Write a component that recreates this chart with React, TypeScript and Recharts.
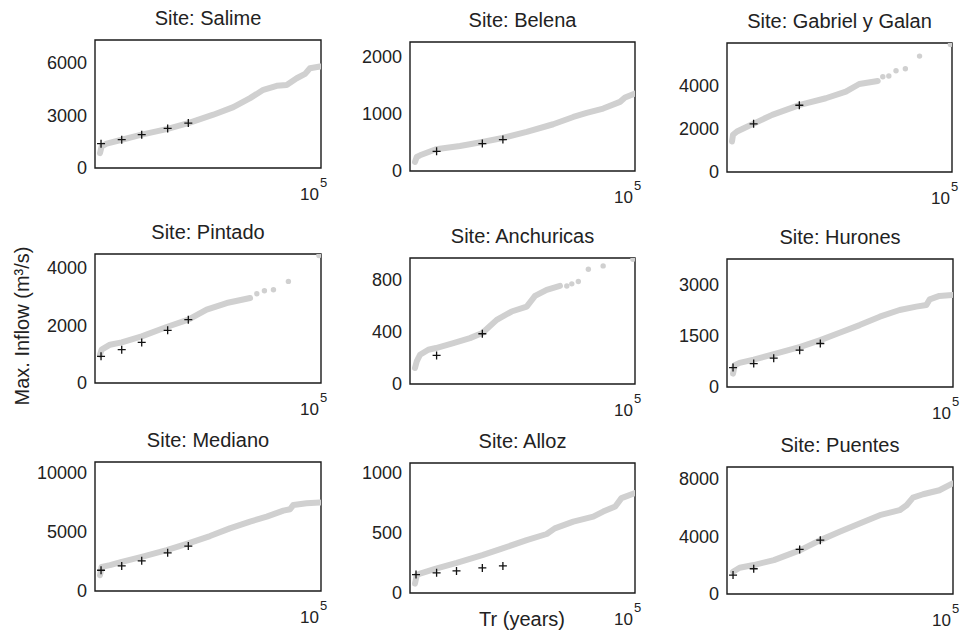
import React from 'react';
import { ComposedChart, Scatter, XAxis, YAxis, ReferenceArea } from 'recharts';

const FONT = '"Liberation Sans", Arial, Helvetica, sans-serif';
const TEXT = '#222';
const GRAY = '#d0d0d0';
const BOX = '#1a1a1a';

// Return periods (years) of the observed-data markers
const TR_MARKS = [1.36, 3.9, 10.8, 40.5, 116];

// ---- Salime ----
const salimeTr = [1.29, 1.4, 1.81, 3.9, 10.8, 38.5, 116, 415, 1150, 2700, 5300, 10500, 17400, 29000, 44500, 57000, 95000];
const salimeQ = [850, 1230, 1385, 1610, 1900, 2220, 2560, 3040, 3470, 3985, 4460, 4690, 4740, 5120, 5370, 5690, 5790];
const salimeMarks = [1385, 1613, 1898, 2258, 2562];

// ---- Belena ----
const belenaTr = [1.29, 1.41, 1.67, 3.78, 12.9, 40.5, 114, 392, 1520, 4260, 8430, 19600, 46400, 60000, 100000];
const belenaQ = [158, 245, 275, 380, 438, 509, 579, 684, 819, 947, 1018, 1094, 1211, 1287, 1357];
const belenaMarks = [null, 345, null, 480, 550];

// ---- Gabriel y Galan ----
const gabrielTr = [1.29, 1.36, 1.67, 2.56, 3.8, 10.1, 41.8, 157, 438, 870, 2240];
const gabrielQ = [1421, 1730, 1884, 2070, 2240, 2656, 3120, 3430, 3737, 4093, 4232];
const gabrielSparseTr = [2900, 3950, 5700, 9200, 19000, 92000];
const gabrielSparseQ = [4432, 4463, 4710, 4803, 5390, 5930];
const gabrielMarks = [null, 2240, null, 3104, null];

// ---- Pintado ----
const pintadoTr = [1.29, 1.4, 2.15, 3.9, 10.8, 38.5, 116, 295, 820, 2700];
const pintadoQ = [985, 1160, 1333, 1414, 1623, 1948, 2203, 2551, 2783, 2957];
const pintadoSparseTr = [3800, 5600, 8870, 19000, 90000];
const pintadoSparseQ = [3107, 3212, 3246, 3536, 4440];
const pintadoMarks = [928, 1160, 1414, 1832, 2203];

// ---- Anchuricas ----
const anchuTr = [1.29, 1.41, 1.67, 2.55, 3.78, 9.2, 21.5, 40.5, 84.5, 181, 392, 600, 1090, 2150];
const anchuQ = [123, 174, 225, 264, 277, 315, 353, 392, 494, 558, 596, 678, 725, 755];
const anchuSparseTr = [3050, 3940, 5500, 9200, 19600, 90000];
const anchuSparseQ = [755, 771, 789, 883, 909, 960];
const anchuMarks = [null, 220, null, 387, null];

// ---- Hurones ----
const huronesTr = [1.36, 1.48, 1.9, 3.9, 10.9, 41.8, 116, 310, 860, 2400, 6600, 15400, 25800, 30600, 50000, 96000];
const huronesQ = [393, 639, 708, 806, 964, 1180, 1377, 1593, 1819, 2065, 2262, 2360, 2409, 2576, 2675, 2704];
const huronesMarks = [570, 688, 846, 1082, 1278];

// ---- Mediano ----
const medianoTr = [1.29, 1.4, 2.15, 3.9, 10.8, 38.5, 116, 350, 960, 2700, 6300, 14700, 20700, 24500, 48000, 94000];
const medianoQ = [1335, 2045, 2190, 2470, 2900, 3466, 4034, 4660, 5312, 5880, 6307, 6818, 6930, 7300, 7443, 7500];
const medianoMarks = [1761, 2130, 2557, 3239, 3807];

// ---- Alloz ----
const allozTr = [1.29, 1.41, 1.67, 3.78, 10.9, 40.5, 114, 392, 1090, 1650, 4260, 11800, 19600, 36400, 50000, 97000];
const allozQ = [78, 148, 162, 204, 251, 316, 372, 441, 492, 539, 595, 637, 679, 721, 791, 832];
const allozMarks = [154, 168, 184, 209, 226];

// ---- Puentes ----
const puentesTr = [1.36, 1.9, 3.9, 10.9, 41.8, 116, 310, 860, 2400, 6600, 9400, 13000, 21800, 50000, 96000];
const puentesQ = [1544, 1820, 2005, 2350, 3041, 3733, 4309, 4885, 5461, 5806, 6152, 6682, 6912, 7189, 7650];
const puentesMarks = [1313, 1751, null, 3088, 3733];

const zip = (xs: number[], ys: number[]) => xs.map((x, i) => ({ x, y: ys[i] }));
const marks = (ys: (number | null)[]) =>
  TR_MARKS.map((x, i) => ({ x, y: ys[i] })).filter((p) => p.y != null);

type Panel = {
  title: string;
  left: number;
  top: number;
  w: number;
  h: number;
  ymax: number;
  ticks: number[];
  curve: { x: number; y: number }[];
  sparse: { x: number; y: number }[];
  marks: { x: number; y: number | null }[];
};

const panels: Panel[] = [
  { title: 'Site: Salime', left: 95, top: 40, w: 226, h: 128, ymax: 7300, ticks: [0, 3000, 6000], curve: zip(salimeTr, salimeQ), sparse: [], marks: marks(salimeMarks) },
  { title: 'Site: Belena', left: 410, top: 42, w: 225, h: 129, ymax: 2260, ticks: [0, 1000, 2000], curve: zip(belenaTr, belenaQ), sparse: [], marks: marks(belenaMarks) },
  { title: 'Site: Gabriel y Galan', left: 727, top: 43, w: 225, h: 129, ymax: 6000, ticks: [0, 2000, 4000], curve: zip(gabrielTr, gabrielQ), sparse: zip(gabrielSparseTr, gabrielSparseQ), marks: marks(gabrielMarks) },
  { title: 'Site: Pintado', left: 95, top: 254, w: 226, h: 129, ymax: 4490, ticks: [0, 2000, 4000], curve: zip(pintadoTr, pintadoQ), sparse: zip(pintadoSparseTr, pintadoSparseQ), marks: marks(pintadoMarks) },
  { title: 'Site: Anchuricas', left: 410, top: 258, w: 225, h: 126, ymax: 970, ticks: [0, 400, 800], curve: zip(anchuTr, anchuQ), sparse: zip(anchuSparseTr, anchuSparseQ), marks: marks(anchuMarks) },
  { title: 'Site: Hurones', left: 727, top: 259, w: 226, h: 128, ymax: 3760, ticks: [0, 1500, 3000], curve: zip(huronesTr, huronesQ), sparse: [], marks: marks(huronesMarks) },
  { title: 'Site: Mediano', left: 95, top: 462, w: 226, h: 129, ymax: 10940, ticks: [0, 5000, 10000], curve: zip(medianoTr, medianoQ), sparse: [], marks: marks(medianoMarks) },
  { title: 'Site: Alloz', left: 410, top: 463, w: 225, h: 130, ymax: 1084, ticks: [0, 500, 1000], curve: zip(allozTr, allozQ), sparse: [], marks: marks(allozMarks) },
  { title: 'Site: Puentes', left: 727, top: 467, w: 226, h: 127, ymax: 8800, ticks: [0, 4000, 8000], curve: zip(puentesTr, puentesQ), sparse: [], marks: marks(puentesMarks) },
];

const ML = 70;
const MR = 20;
const MT = 5;
const MB = 40;

const PlusShape = (props: any) => {
  const { cx, cy } = props;
  if (cx == null || cy == null) return <g />;
  return (
    <path
      d={`M${cx - 4},${cy}H${cx + 4}M${cx},${cy - 4}V${cy + 4}`}
      stroke="#111"
      strokeWidth={1.3}
      fill="none"
    />
  );
};

const DotShape = (props: any) => {
  const { cx, cy } = props;
  if (cx == null || cy == null) return <g />;
  return <circle cx={cx} cy={cy} r={2.7} fill={GRAY} />;
};

const NoShape = () => <g />;

const XTick = (props: any) => {
  const { x, y } = props;
  return (
    <g>
      <text x={x + 2} y={y + 32} textAnchor="end" fontSize={17} fill={TEXT} fontFamily={FONT}>
        10
      </text>
      <text x={x + 3} y={y + 19} textAnchor="start" fontSize={13} fill={TEXT} fontFamily={FONT}>
        5
      </text>
    </g>
  );
};

function PanelChart({ p }: { p: Panel }) {
  const width = p.w + ML + MR;
  const height = p.h + MT + MB;
  return (
    <>
      <div
        style={{
          position: 'absolute',
          left: p.left + p.w / 2,
          top: p.top - 22 - 10,
          transform: 'translateX(-50%)',
          fontFamily: FONT,
          fontSize: 20,
          lineHeight: '20px',
          color: TEXT,
          whiteSpace: 'nowrap',
        }}
      >
        {p.title}
      </div>
      <div style={{ position: 'absolute', left: p.left - ML, top: p.top - MT }}>
        <ComposedChart
          width={width}
          height={height}
          margin={{ top: MT, right: MR, bottom: 0, left: 10 }}
        >
          <XAxis
            dataKey="x"
            type="number"
            scale="log"
            domain={[1, 100000]}
            ticks={[100000]}
            allowDataOverflow
            height={MB}
            axisLine={false}
            tickLine={false}
            tickSize={0}
            tickMargin={0}
            tick={<XTick />}
          />
          <YAxis
            dataKey="y"
            type="number"
            domain={[0, p.ymax]}
            ticks={p.ticks}
            allowDataOverflow
            width={60}
            axisLine={false}
            tickLine={false}
            tickSize={0}
            tickMargin={8}
            tick={{ fontSize: 18, fill: TEXT, fontFamily: FONT }}
          />
          <YAxis
            yAxisId="li"
            orientation="left"
            mirror
            width={0}
            type="number"
            domain={[0, p.ymax]}
            ticks={p.ticks}
            allowDataOverflow
            axisLine={false}
            tick={false}
            tickSize={4}
            tickLine={{ stroke: BOX }}
          />
          <YAxis
            yAxisId="r"
            orientation="right"
            mirror
            width={0}
            type="number"
            domain={[0, p.ymax]}
            ticks={p.ticks}
            allowDataOverflow
            axisLine={false}
            tick={false}
            tickSize={4}
            tickLine={{ stroke: BOX }}
          />
          <Scatter
            data={p.curve}
            line={{ stroke: GRAY, strokeWidth: 6, strokeLinecap: 'round', strokeLinejoin: 'round' }}
            shape={NoShape}
            isAnimationActive={false}
            legendType="none"
          />
          {p.sparse.length > 0 && (
            <Scatter data={p.sparse} shape={DotShape} isAnimationActive={false} legendType="none" />
          )}
          <Scatter data={p.marks} shape={PlusShape} isAnimationActive={false} legendType="none" />
          <ReferenceArea
            x1={1}
            x2={100000}
            y1={0}
            y2={p.ymax}
            fill="none"
            fillOpacity={0}
            stroke={BOX}
            strokeOpacity={1}
            strokeWidth={1.4}
            ifOverflow="visible"
          />
        </ComposedChart>
      </div>
    </>
  );
}

export default function App() {
  return (
    <div
      style={{
        position: 'absolute',
        left: 0,
        top: 0,
        width: 967,
        height: 639,
        background: '#fff',
        overflow: 'hidden',
      }}
    >
      {panels.map((p) => (
        <PanelChart key={p.title} p={p} />
      ))}
      <div
        style={{
          position: 'absolute',
          left: 22,
          top: 326,
          transform: 'translate(-50%, -50%) rotate(-90deg)',
          fontFamily: FONT,
          fontSize: 20,
          lineHeight: '20px',
          color: TEXT,
          whiteSpace: 'nowrap',
        }}
      >
        Max. Inflow (m³/s)
      </div>
      <div
        style={{
          position: 'absolute',
          left: 522,
          top: 619,
          transform: 'translate(-50%, -50%)',
          fontFamily: FONT,
          fontSize: 20,
          lineHeight: '20px',
          color: TEXT,
          whiteSpace: 'nowrap',
        }}
      >
        Tr (years)
      </div>
    </div>
  );
}
